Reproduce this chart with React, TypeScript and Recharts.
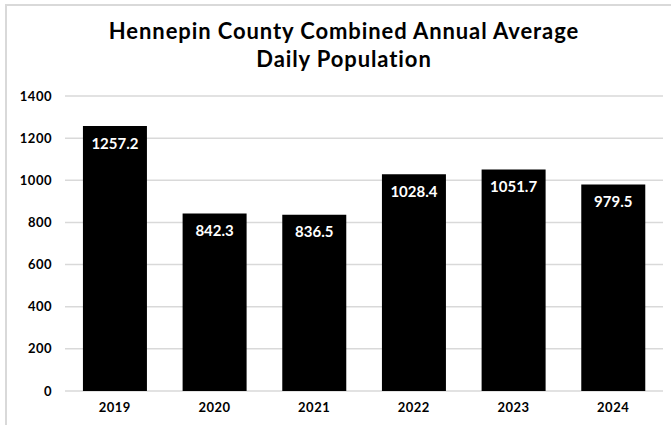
import React from 'react';
import { BarChart, Bar, XAxis, YAxis, CartesianGrid, LabelList } from 'recharts';

const years = ['2019', '2020', '2021', '2022', '2023', '2024'];
const population = [1257.2, 842.3, 836.5, 1028.4, 1051.7, 979.5];
const yTicks = [0, 200, 400, 600, 800, 1000, 1200, 1400];

const font = 'Lato, "DejaVu Sans", sans-serif';

export default function App() {
  const data = years.map((year, i) => ({ year, value: population[i] }));

  return (
    <div style={{ position: 'absolute', left: 0, top: 0, width: 671, height: 425, background: '#fff', fontFamily: font }}>
      {/* light frame around the chart */}
      <div style={{ position: 'absolute', left: 5, top: 4, width: 680, height: 440, border: '2px solid #d9d9d9', boxSizing: 'border-box' }} />
      <div
        style={{
          position: 'absolute',
          left: 0,
          top: 17,
          width: 688,
          textAlign: 'center',
          fontWeight: 700,
          fontSize: 22,
          letterSpacing: 0.9,
          lineHeight: '28px',
          color: '#000',
        }}
      >
        Hennepin County Combined Annual Average
        <br />
        Daily Population
      </div>
      <div style={{ position: 'absolute', left: 0, top: 0 }}>
        <BarChart width={671} height={425} data={data} margin={{ top: 96, right: 8, bottom: 0, left: 0 }} barCategoryGap="18%">
          <CartesianGrid vertical={false} stroke="#d9d9d9" strokeWidth={1.5} />
          <XAxis
            dataKey="year"
            axisLine={false}
            tickLine={false}
            height={34}
            tickMargin={6}
            tick={{ fill: '#000', fontSize: 13, fontWeight: 700, letterSpacing: 0.5, fontFamily: font }}
          />
          <YAxis
            width={65}
            domain={[0, 1400]}
            ticks={yTicks}
            axisLine={false}
            tickLine={false}
            tickMargin={7}
            tick={{ fill: '#000', fontSize: 13, fontWeight: 700, letterSpacing: 0.5, fontFamily: font }}
          />
          <Bar dataKey="value" fill="#000" isAnimationActive={false}>
            <LabelList
              dataKey="value"
              position="insideTop"
              offset={12}
              formatter={(v: any) => Number(v).toFixed(1)}
              style={{ fill: '#fff', fontSize: 15, fontWeight: 700, fontFamily: font }}
            />
          </Bar>
        </BarChart>
      </div>
    </div>
  );
}
